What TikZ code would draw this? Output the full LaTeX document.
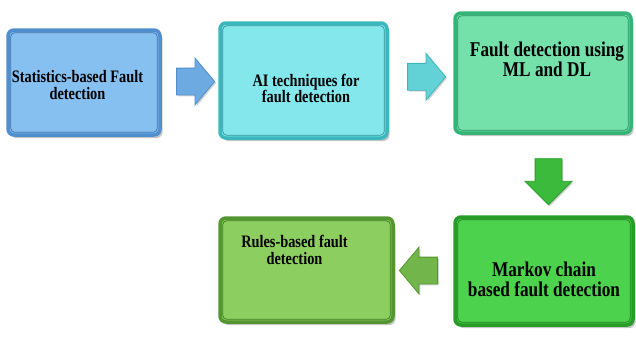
\documentclass[tikz,border=0pt]{standalone}
\usepackage{fontspec}
\setmainfont[FakeStretch=0.82]{Liberation Serif}
\usetikzlibrary{shapes.arrows,shadows,calc}

\definecolor{bluface}{HTML}{86C0F0}
\definecolor{bluedge}{HTML}{4F8FCF}
\definecolor{cyaface}{HTML}{84E7EC}
\definecolor{cyaedge}{HTML}{3BB8BE}
\definecolor{minface}{HTML}{74E1AB}
\definecolor{minedge}{HTML}{34B577}
\definecolor{leaface}{HTML}{8CCF60}
\definecolor{leaedge}{HTML}{53962F}
\definecolor{limface}{HTML}{4DD24D}
\definecolor{limedge}{HTML}{279C27}

\begin{document}
\begin{tikzpicture}
  [x=1pt, y=-1pt,
   panel/.style={draw=#1edge, fill=#1face, line width=3.5pt, rounded corners=6pt,
     inner sep=0pt, drop shadow={opacity=0.45, shadow xshift=2.5pt, shadow yshift=-3pt}},
   blockarrow/.style={single arrow, draw=#1edge, fill=#1edge!45!#1face, line width=0.8pt,
     inner sep=13pt, single arrow head extend=10pt, single arrow tip angle=100,
     minimum height=36pt, drop shadow={opacity=0.35, shadow xshift=1.5pt, shadow yshift=-1.5pt}},
   smalltxt/.style={align=center, font=\fontsize{17.5}{16.6}\selectfont\bfseries},
   bigtxt/.style={align=center, font=\fontsize{21}{20}\selectfont\bfseries}]
  \useasboundingbox (0,0) rectangle (636,338);

  % boxes
  \node[panel=blu, minimum width=152pt, minimum height=105pt] (b1) at (84,82.5) {};
  \node[panel=cya, minimum width=167pt, minimum height=115pt] (b2) at (303.5,80.5) {};
  \node[panel=min, minimum width=176pt, minimum height=120pt] (b3) at (543,73) {};
  \node[panel=lea, minimum width=173pt, minimum height=104pt] (b4) at (306.5,270) {};
  \node[panel=lim, minimum width=178pt, minimum height=108pt] (b5) at (544,271) {};

  \foreach \b/\c in {b1/blu,b2/cya,b3/min,b4/lea,b5/lim}
    \draw[\c edge!80!black, line width=0.7pt, rounded corners=4pt]
      ([shift={(4.5,4.5)}]\b.north west) rectangle ([shift={(-4.5,-4.5)}]\b.south east);

  % labels
  \node[smalltxt] (t1) at (77.5,85) {Statistics-based Fault\\detection};
  \node[smalltxt] (t2) at (306,88.5) {AI techniques for\\fault detection};
  \node[bigtxt] (t3) at (547,59) {Fault detection using\\ML and DL};
  \node[smalltxt] (t4) at (294.5,250) {Rules-based fault\\detection};
  \node[bigtxt] (t5) at (544,279) {Markov chain\\based fault detection};

  % arrows
  \node[blockarrow=blu] (a1) at ($(b1.east)!.5!(b2.west)$) {};
  \node[blockarrow=cya] (a2) at ($(b2.east)!.5!(b3.west)$) {};
  \node[blockarrow=lim, shape border rotate=270, minimum height=46pt,
    single arrow tip angle=90] (a3) at ([xshift=5pt]$(b3.south)!.5!(b5.north)$) {};
  \node[blockarrow=lea, shape border rotate=180] (a4) at ($(b5.west)!.5!(b4.east)$) {};
\end{tikzpicture}
\end{document}
